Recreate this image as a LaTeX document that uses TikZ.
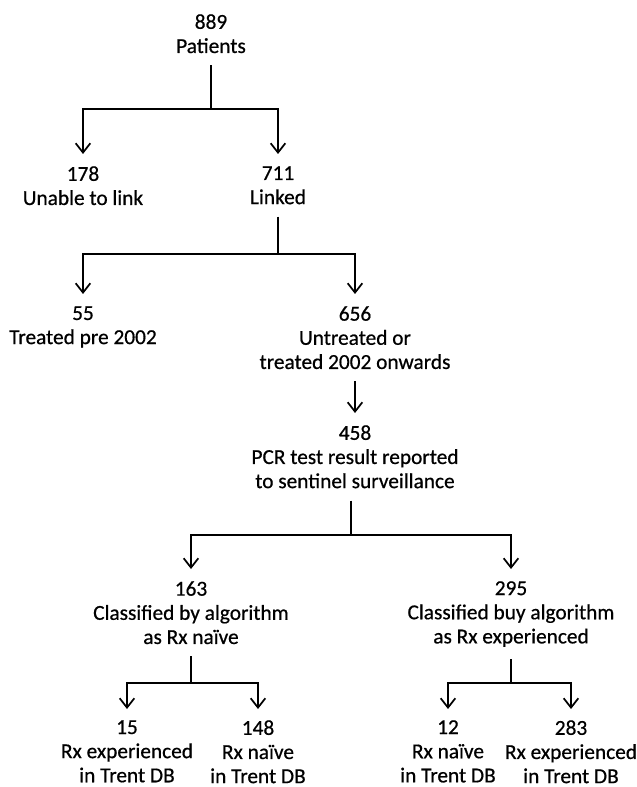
\documentclass[tikz,border=0pt]{standalone}
\usepackage{fontspec}
\setmainfont{Carlito}[FakeBold=0.6]
\usetikzlibrary{arrows.meta}
\begin{document}
\begin{tikzpicture}[x=0.75pt,y=-0.75pt,
  lbl/.style={align=center, anchor=north, inner xsep=0pt, inner ysep=9pt,
    font=\fontsize{16pt}{18.1pt}\selectfont},
  leaf/.style={lbl, inner ysep=1.5pt},
  ln/.style={line width=1.5pt},
  arr/.style={ln, -{Straight Barb[length=7pt,width=11pt,line width=1.3pt]}}]
\useasboundingbox (0,0) rectangle (636,787);
% nodes
\node[lbl] (n889) at (211,2)   {889\\Patients};
\node[lbl] (n178) at (83,154)  {178\\Unable to link};
\node[lbl] (n711) at (278,154) {711\\Linked};
\node[lbl] (n55)  at (83,294)  {55\\Treated pre 2002};
\node[lbl] (n656) at (355,294) {656\\Untreated or\\treated 2002 onwards};
\node[lbl] (n458) at (355,413) {458\\PCR test result reported\\to sentinel surveillance};
\node[lbl] (n163) at (191,569) {163\\Classified by algorithm\\as Rx naïve};
\node[lbl] (n295) at (511,569) {295\\Classified buy algorithm\\as Rx experienced};
\node[leaf] (n15)  at (127,718) {15\\Rx experienced\\in Trent DB};
\node[leaf] (n148) at (258,718) {148\\Rx naïve\\in Trent DB};
\node[leaf] (n12)  at (448,718) {12\\Rx naïve\\in Trent DB};
\node[leaf] (n283) at (571,718) {283\\Rx experienced\\in Trent DB};
% bar levels
\coordinate (b1) at (0,109);
\coordinate (b2) at (0,254);
\coordinate (b3) at (0,535);
\coordinate (b4) at (0,683);
\coordinate (s3) at (351,0);
\coordinate (t4) at (0,709);
% connectors
\draw[ln] (n889.south) -- (n889.south |- b1);
\draw[arr] (n889.south |- b1) -| (n178.north);
\draw[arr] (n889.south |- b1) -| (n711.north);
\draw[ln] (n711.south) -- (n711.south |- b2);
\draw[arr] (n711.south |- b2) -| (n55.north);
\draw[arr] (n711.south |- b2) -| (n656.north);
\draw[arr] (n656.south) -- (n458.north);
\draw[ln] (s3 |- n458.south) -- (s3 |- b3);
\draw[arr] (s3 |- b3) -| (n163.north);
\draw[arr] (s3 |- b3) -| (n295.north);
\draw[ln] (n163.south) -- (n163.south |- b4);
\draw[arr] (n163.south |- b4) -| (n15.north |- t4);
\draw[arr] (n163.south |- b4) -| (n148.north |- t4);
\draw[ln] (n295.south) -- (n295.south |- b4);
\draw[arr] (n295.south |- b4) -| (n12.north |- t4);
\draw[arr] (n295.south |- b4) -| (n283.north |- t4);
\end{tikzpicture}
\end{document}
